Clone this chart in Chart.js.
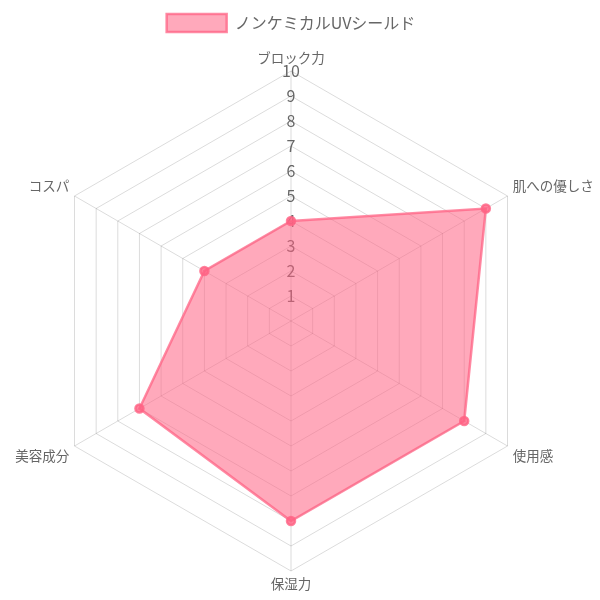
<!DOCTYPE html>
<html><head><meta charset="utf-8">
<script src="https://cdn.jsdelivr.net/npm/chart.js@4"></script>
<style>html,body{margin:0;padding:0;background:#fff}#wrap{width:600px;height:600px}</style>
</head><body><div id="wrap"><canvas id="c"></canvas></div>
<script>
const categories = ['ブロック力','肌への優しさ','使用感','保湿力','美容成分','コスパ'];
const seriesName = 'ノンケミカルUVシールド';
const values = [4, 9, 8, 8, 7, 4];
const tickMin = 0, tickMax = 10, tickStep = 1;
const font = '"Noto Sans CJK JP", "Noto Sans", sans-serif';

const pointLabelPlugin = {
  id: 'pointLabelText',
  afterDatasetsDraw(chart) {
    const scale = chart.scales.r, ctx = chart.ctx, labels = chart.data.labels, n = labels.length;
    ctx.save();
    ctx.font = '13.5px ' + font;
    ctx.fillStyle = '#666';
    labels.forEach((lab, i) => {
      const deg = Math.round(360 / n * i) % 360;
      const p = scale.getPointPosition(i, scale.drawingArea + 6);
      ctx.textAlign = (deg === 0 || deg === 180) ? 'center' : (deg < 180 ? 'left' : 'right');
      ctx.textBaseline = (deg === 90 || deg === 270) ? 'middle' : ((deg < 90 || deg > 270) ? 'bottom' : 'top');
      ctx.fillText(lab, p.x, p.y);
    });
    ctx.restore();
  }
};

new Chart(document.getElementById('c'), {
  type: 'radar',
  data: { labels: categories, datasets: [{
    label: seriesName, data: values,
    backgroundColor: 'rgba(255,99,132,0.55)', borderColor: 'rgba(255,99,132,0.75)',
    borderWidth: 2.5, pointBackgroundColor: 'rgba(255,99,132,0.8)', pointBorderColor: 'rgba(255,99,132,0.8)', pointRadius: 4
  }]},
  options: {
    responsive: true, maintainAspectRatio: false, animation: false,
    layout: { padding: { top: 2, bottom: 0, left: 31, right: 49 } },
    plugins: { legend: { labels: { padding: 12, boxWidth: 60, boxHeight: 18, color: '#666', font: { family: font, size: 16 } } }, tooltip: { enabled: false } },
    scales: { r: {
      min: tickMin, max: tickMax,
      ticks: { stepSize: tickStep, showLabelBackdrop: false, color: '#666', font: { family: font, size: 16 } },
      grid: { color: 'rgba(0,0,0,0.14)' }, angleLines: { color: 'rgba(0,0,0,0.14)' },
      pointLabels: { display: false }
    }}
  },
  plugins: [pointLabelPlugin]
});
</script></body></html>
